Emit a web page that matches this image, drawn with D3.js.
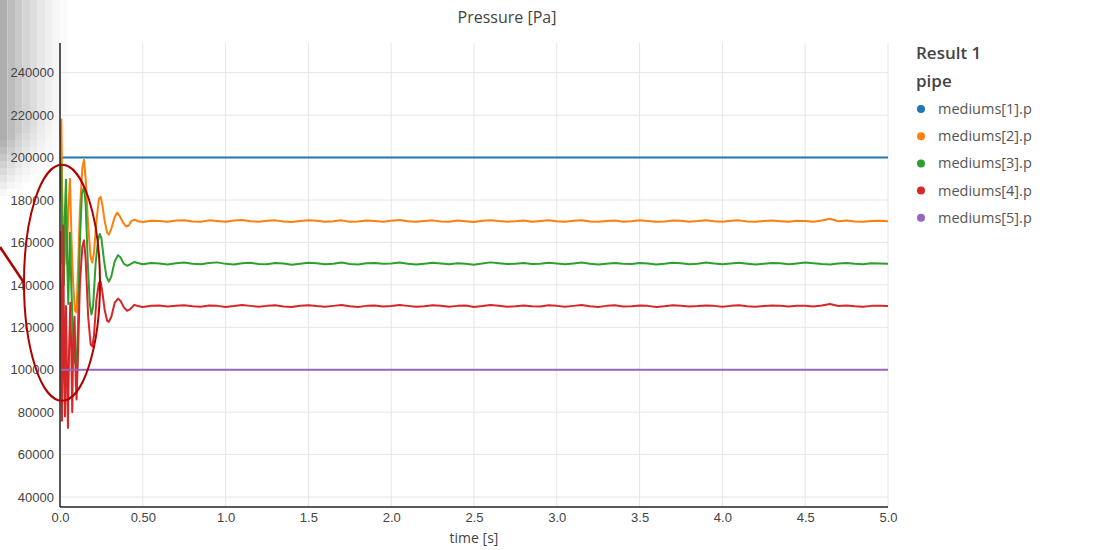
<!DOCTYPE html>
<html>
<head>
<meta charset="utf-8">
<script src="https://cdn.jsdelivr.net/npm/d3@7"></script>
<style>
  body { margin: 0; background: white; }
  svg { display: block; }
</style>
</head>
<body>
<div class="svg-wrap"></div>
<script>
const width = 1094;
const height = 550;
const margin = { left: 60, right: 206, top: 43, bottom: 43 };

// ---- data ----
const seriesNames = ["mediums[1].p", "mediums[2].p", "mediums[3].p", "mediums[4].p", "mediums[5].p"];
const seriesColors = ["#1f77b4", "#ff7f0e", "#2ca02c", "#d62728", "#9467bd"];

const yTicks = [40000, 60000, 80000, 100000, 120000, 140000, 160000, 180000, 200000, 220000, 240000];
const xTicks = [0, 0.5, 1, 1.5, 2, 2.5, 3, 3.5, 4, 4.5, 5];
const xTickLabels = ["0.0", "0.50", "1.0", "1.5", "2.0", "2.5", "3.0", "3.5", "4.0", "4.5", "5.0"];

const medium1 = [[0, 200000], [5, 200000]];
const medium5 = [[0, 100000], [5, 100000]];

// transient part, [time, pressure]
const medium2Start = [[0, 200000], [0.004, 210000], [0.008, 218000], [0.013, 185000], [0.018, 166000],
  [0.025, 172000], [0.032, 160000], [0.04, 150000], [0.05, 175000], [0.06, 190000], [0.07, 160000],
  [0.08, 140000], [0.09, 128000], [0.1, 127000], [0.11, 150000], [0.12, 175000], [0.135, 195000],
  [0.145, 199000], [0.155, 190000], [0.17, 168000], [0.185, 153000], [0.195, 150500], [0.205, 155000],
  [0.22, 170000], [0.235, 180500], [0.245, 181500], [0.255, 178000], [0.27, 170000], [0.285, 164500],
  [0.295, 163700], [0.31, 166500], [0.33, 172000], [0.345, 174000], [0.36, 172500], [0.38, 169500],
  [0.4, 167500], [0.415, 168000], [0.43, 170000], [0.45, 170800], [0.47, 170000]];

const medium3Start = [[0, 200000], [0.004, 180000], [0.008, 196000], [0.013, 150000], [0.018, 168000],
  [0.024, 140000], [0.03, 175000], [0.036, 189500], [0.044, 150000], [0.05, 131000], [0.06, 164600],
  [0.068, 140000], [0.078, 118000], [0.088, 104000], [0.1, 101500], [0.11, 125000], [0.12, 160000],
  [0.132, 183000], [0.145, 186000], [0.155, 178000], [0.168, 150000], [0.18, 131000], [0.19, 126000],
  [0.2, 130000], [0.215, 150000], [0.23, 161000], [0.24, 164000], [0.25, 162000], [0.265, 152000],
  [0.28, 144000], [0.295, 141500], [0.31, 144000], [0.33, 151000], [0.35, 154000], [0.365, 153000],
  [0.385, 150000], [0.405, 149000], [0.42, 149500], [0.45, 150800], [0.47, 150300]];

const medium4Start = [[0, 150000], [0.004, 165000], [0.008, 90000], [0.012, 76000], [0.016, 120000],
  [0.02, 168000], [0.025, 100000], [0.03, 78000], [0.036, 130000], [0.042, 100000], [0.048, 72500],
  [0.055, 110000], [0.062, 131600], [0.068, 110000], [0.074, 80000], [0.08, 115000], [0.088, 125000],
  [0.095, 95000], [0.1, 86000], [0.108, 105000], [0.12, 140000], [0.135, 158000], [0.145, 161000],
  [0.155, 152000], [0.17, 125000], [0.185, 112000], [0.195, 111000], [0.205, 116000], [0.22, 133000],
  [0.235, 141000], [0.245, 141500], [0.255, 137000], [0.27, 128000], [0.285, 123000], [0.295, 122600],
  [0.31, 125000], [0.33, 131500], [0.35, 133500], [0.365, 132500], [0.385, 129500], [0.405, 127800],
  [0.42, 128300], [0.45, 130600], [0.47, 130000]];

// settled part, sampled every 0.05 s from 0.5 s to 5.0 s
const steadyTimes = d3.range(0.5, 5.001, 0.05);

const medium2Steady = [169600, 170200, 170100, 169700, 170300, 170500, 169900, 169800, 170400, 170100,
  169700, 170300, 170600, 170000, 169800, 170200, 170400, 169900, 169600, 170100,
  170500, 170200, 169800, 170000, 170400, 169700, 169900, 170300, 170100, 169800,
  170200, 170600, 170000, 169700, 170100, 170400, 169900, 169800, 170300, 170000,
  169600, 170200, 170500, 170100, 169800, 170000, 170300, 169700, 170100, 170400,
  170000, 169800, 170200, 170500, 169900, 169700, 170100, 170300, 169800, 170000,
  170400, 170100, 169700, 169900, 170300, 170200, 169800, 170100, 170500, 170000,
  169700, 170200, 170400, 169900, 169800, 170100, 170300, 170000, 169700, 170200,
  170100, 169800, 170300, 171200, 170000, 170300, 169900, 169700, 170100, 170200, 170000];

const medium3Steady = [149700, 150300, 150100, 149600, 150200, 150500, 150000, 149700, 150300, 150600,
  149900, 149600, 150200, 150400, 149800, 149700, 150300, 150100, 149500, 150000,
  150400, 150200, 149700, 150000, 150500, 149800, 149600, 150200, 150300, 149900,
  150100, 150500, 150000, 149600, 150000, 150400, 150100, 149700, 150200, 150000,
  149500, 150100, 150600, 150200, 149800, 149900, 150300, 149800, 150000, 150400,
  150100, 149700, 150100, 150500, 150000, 149600, 150000, 150300, 149900, 149800,
  150300, 150100, 149600, 149900, 150400, 150200, 149700, 150000, 150500, 150100,
  149700, 150100, 150400, 150000, 149600, 150000, 150300, 150200, 149700, 150100,
  150500, 150200, 149800, 149600, 150100, 150300, 149900, 149700, 150200, 150100, 150000];

const medium4Steady = [129600, 130200, 130300, 129800, 130100, 130400, 129900, 129700, 130300, 130100,
  129600, 130000, 130500, 130100, 129700, 130100, 130400, 129800, 129600, 130200,
  130400, 130000, 129700, 130100, 130500, 129900, 129600, 130100, 130300, 129800,
  130000, 130500, 130100, 129700, 129900, 130400, 130200, 129700, 130100, 130300,
  129600, 130000, 130500, 130200, 129700, 129900, 130300, 129900, 129800, 130400,
  130100, 129700, 130100, 130500, 129900, 129600, 130100, 130400, 129800, 129900,
  130300, 130100, 129600, 129900, 130400, 130200, 129800, 130000, 130300, 130100,
  129700, 130100, 130400, 129900, 129700, 130000, 130300, 130100, 129800, 130200,
  130100, 129800, 130300, 131000, 130000, 130300, 129900, 129700, 130100, 130200, 130000];

// gray block shading at the top left of the picture (column tones)
const shadeTones = ["#adadad", "#bcbcbc", "#c8c8c8", "#d3d3d3", "#dddddd", "#e7e7e7", "#efefef", "#f6f6f6", "#fbfbfb"];

// ---- drawing ----
let svgContainer = d3
  .select(".svg-wrap")
  .append("svg")
  .attr("width", width)
  .attr("height", height)
  .style("background-color", "white");

const scaleX = d3.scaleLinear().domain([0, 5]).range([margin.left, width - margin.right]);
const scaleY = d3.scaleLinear().domain([35300, 254000]).range([height - margin.bottom, margin.top]);

drawShade();
drawGrid();
drawLines();
drawAxes();
drawLegend();
drawNote();

function joinSeries(start, steady) {
  return start.concat(steadyTimes.map((t, i) => [t, steady[i]]));
}

function drawShade() {
  let g = svgContainer.append("g");
  shadeTones.forEach(function (tone, c) {
    for (let r = 0; r < 28; r++) {
      let yTop = r * 7;
      let fade = Math.max(0, Math.min(1, (yTop - 135 + c * 4) / 60));
      g.append("rect")
        .attr("x", c * 7.5)
        .attr("y", yTop)
        .attr("width", 7.5)
        .attr("height", 7)
        .attr("fill", d3.interpolateRgb(tone, "#ffffff")(fade));
    }
  });
}

function drawGrid() {
  let g = svgContainer.append("g");
  g.selectAll(".hgrid")
    .data(yTicks)
    .enter()
    .append("line")
    .attr("x1", scaleX(0))
    .attr("x2", scaleX(5))
    .attr("y1", d => scaleY(d))
    .attr("y2", d => scaleY(d))
    .attr("stroke", "#e6e6e6")
    .attr("stroke-width", 1);

  g.selectAll(".vgrid")
    .data(xTicks.slice(1))
    .enter()
    .append("line")
    .attr("x1", d => scaleX(d))
    .attr("x2", d => scaleX(d))
    .attr("y1", margin.top)
    .attr("y2", height - margin.bottom)
    .attr("stroke", "#e6e6e6")
    .attr("stroke-width", 1);
}

function drawLines() {
  const allSeries = [
    medium1,
    joinSeries(medium2Start, medium2Steady),
    joinSeries(medium3Start, medium3Steady),
    joinSeries(medium4Start, medium4Steady),
    medium5
  ];

  svgContainer.append("clipPath")
    .attr("id", "plot-clip")
    .append("rect")
    .attr("x", scaleX(0))
    .attr("y", margin.top)
    .attr("width", scaleX(5) - scaleX(0))
    .attr("height", height - margin.bottom - margin.top);

  let line = d3.line()
    .x(d => scaleX(d[0]))
    .y(d => scaleY(d[1]));

  svgContainer.append("g")
    .attr("clip-path", "url(#plot-clip)")
    .selectAll("path")
    .data(allSeries)
    .enter()
    .append("path")
    .attr("d", line)
    .attr("fill", "none")
    .attr("stroke", (d, i) => seriesColors[i])
    .attr("stroke-width", 2)
    .attr("stroke-linejoin", "round");
}

function drawAxes() {
  let yAxis = d3.axisLeft(scaleY).tickValues(yTicks).tickSize(0).tickPadding(6).tickFormat(d3.format("d"));
  let yg = svgContainer.append("g")
    .attr("id", "y-axis")
    .attr("transform", "translate(" + scaleX(0) + ",0)")
    .call(yAxis);
  yg.select(".domain").attr("stroke", "#222").attr("stroke-width", 1.5)
    .attr("d", "M0," + margin.top + "V" + (height - margin.bottom));

  let xAxis = d3.axisBottom(scaleX).tickValues(xTicks).tickSize(0).tickPadding(6)
    .tickFormat((d, i) => xTickLabels[i]);
  let xg = svgContainer.append("g")
    .attr("id", "x-axis")
    .attr("transform", "translate(0," + (height - margin.bottom) + ")")
    .call(xAxis);
  xg.select(".domain").attr("stroke", "#222").attr("stroke-width", 1.5)
    .attr("d", "M" + scaleX(0) + ",0H" + scaleX(5));

  svgContainer.selectAll(".tick text")
    .style("font-family", "Liberation Sans, Arial, sans-serif")
    .style("font-size", "13px")
    .attr("fill", "#444");

  svgContainer.append("text")
    .attr("x", (scaleX(0) + scaleX(5)) / 2)
    .attr("y", 543)
    .attr("text-anchor", "middle")
    .style("font-family", "Open Sans, sans-serif")
    .style("font-size", "14px")
    .attr("fill", "#444")
    .text("time [s]");

  svgContainer.append("text")
    .attr("x", 507)
    .attr("y", 23)
    .attr("text-anchor", "middle")
    .style("font-family", "Open Sans, sans-serif")
    .style("font-size", "16px")
    .attr("fill", "#444")
    .text("Pressure [Pa]");
}

function drawLegend() {
  let g = svgContainer.append("g").attr("transform", "translate(916,0)");
  g.append("text")
    .attr("x", 0)
    .attr("y", 59)
    .style("font-family", "Open Sans, sans-serif")
    .style("font-size", "17px")
    .style("font-weight", 600)
    .attr("fill", "#444")
    .text("Result 1");
  g.append("text")
    .attr("x", 0)
    .attr("y", 87)
    .style("font-family", "Open Sans, sans-serif")
    .style("font-size", "17px")
    .style("font-weight", 600)
    .attr("fill", "#444")
    .text("pipe");

  let items = g.selectAll(".item")
    .data(seriesNames)
    .enter()
    .append("g")
    .attr("transform", (d, i) => "translate(0," + (109 + i * 27.2) + ")");
  items.append("circle")
    .attr("cx", 5)
    .attr("cy", 0)
    .attr("r", 4)
    .attr("fill", (d, i) => seriesColors[i]);
  items.append("text")
    .attr("x", 22)
    .attr("y", 5)
    .style("font-family", "Open Sans, sans-serif")
    .style("font-size", "14.5px")
    .attr("fill", "#555")
    .text(d => d);
}

function drawNote() {
  // red ellipse marking the start-up oscillations
  let cx = scaleX(0.012);
  let cy = scaleY(141000);
  svgContainer.append("ellipse")
    .attr("cx", cx)
    .attr("cy", cy)
    .attr("rx", 38)
    .attr("ry", 118)
    .attr("fill", "none")
    .attr("stroke", "#b00000")
    .attr("stroke-width", 2);
  svgContainer.append("line")
    .attr("x1", 0)
    .attr("y1", 247)
    .attr("x2", cx - 38.5)
    .attr("y2", 282)
    .attr("stroke", "#b00000")
    .attr("stroke-width", 2.5);
}
</script>
</body>
</html>
